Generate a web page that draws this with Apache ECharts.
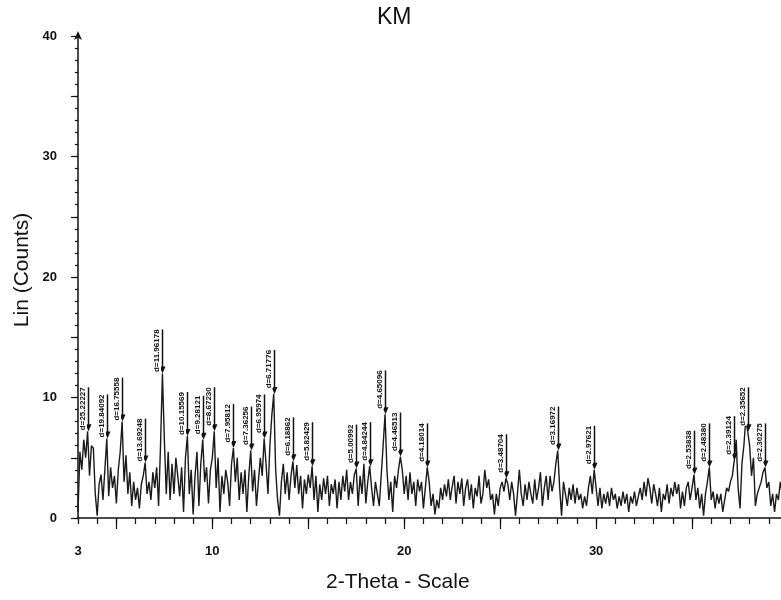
<!DOCTYPE html>
<html>
<head>
<meta charset="utf-8">
<script src="https://cdn.jsdelivr.net/npm/echarts@6/dist/echarts.min.js"></script>
<style>
  html, body { margin: 0; padding: 0; background: #fff; }
  #km { width: 781px; height: 600px; }
</style>
</head>
<body>
<div id="km"></div>
<script>
// 2-theta scan, 3.0 .. 40.0 deg, step 0.1
const thetaStart = 3.0;
const thetaStep = 0.1;
const counts = [
  0.5, 5.5, 4.0, 6.5, 5.0, 7.2, 3.5, 6.0, 5.8, 2.0,
  0.2, 2.8, 3.6, 1.5, 4.0, 6.6, 1.8, 4.2, 2.5, 3.5,
  1.2, 4.0, 5.5, 8.0, 3.0, 5.2, 2.0, 3.8, 1.0, 3.0,
  1.5, 2.5, 0.8, 2.8, 3.5, 4.6, 2.0, 3.0, 1.5, 3.8,
  2.5, 4.2, 1.0, 6.0, 12.0, 6.5, 2.0, 5.5, 1.5, 4.5,
  2.0, 5.0, 3.5, 1.8, 4.2, 0.5, 5.0, 6.8, 2.0, 4.0,
  0.3, 3.5, 5.5, 1.0, 4.5, 6.5, 3.0, 4.2, 1.2, 4.0,
  5.0, 7.2, 2.5, 5.0, 0.5, 3.5, 2.0, 4.0, 3.0, 1.0,
  4.5, 5.8, 3.0, 5.0, 1.5, 3.8, 2.0, 4.0, 0.5, 3.5,
  5.6, 2.2, 4.0, 1.0, 3.0, 5.0, 3.5, 6.6, 4.5, 2.0,
  6.0, 8.5, 10.3, 4.0, 1.5, 0.2, 3.0, 4.5, 2.0, 3.8,
  1.5, 3.5, 4.7, 2.5, 4.4, 2.0, 3.5, 0.8, 3.2, 2.0,
  3.6, 2.5, 4.3, 1.5, 3.5, 0.5, 2.8, 1.5, 3.3, 2.0,
  3.5, 1.0, 2.8, 2.0, 3.2, 0.8, 3.0, 1.5, 3.5, 2.2,
  4.0, 1.5, 3.0, 2.0, 3.6, 4.1, 1.0, 3.5, 2.0, 4.5,
  1.2, 3.0, 4.3, 2.5, 1.0, 3.0, 2.0, 1.0, 3.5, 6.0,
  8.6, 4.0, 1.5, 3.0, 0.5, 3.5, 2.5, 4.0, 5.1, 4.0,
  2.0, 3.5, 1.5, 3.8, 2.0, 3.0, 1.0, 3.2, 2.2, 3.0,
  0.8, 2.5, 4.2, 3.0, 1.0, 2.0, 0.3, 1.5, 0.8, 2.5,
  1.5, 2.8, 1.8, 3.2, 1.5, 2.6, 3.5, 1.2, 3.0, 2.0,
  3.3, 1.0, 2.5, 3.2, 1.5, 2.8, 0.8, 2.5, 1.8, 3.5,
  1.2, 2.0, 4.0, 2.5, 3.2, 1.5, 2.0, 0.3, 2.0, 1.0,
  2.5, 3.0, 2.2, 3.3, 2.8, 1.5, 3.0, 2.0, 0.2, 2.0,
  4.0, 2.0, 1.0, 2.8, 1.5, 3.0, 2.0, 1.2, 3.2, 1.5,
  2.5, 3.8, 1.0, 2.5, 3.5, 1.5, 3.5, 2.2, 3.0, 4.5,
  5.6, 2.5, 0.2, 3.0, 2.0, 1.0, 2.5, 1.5, 2.8, 1.2,
  2.5, 1.5, 2.0, 0.8, 1.8, 1.0, 2.5, 3.5, 2.0, 4.0,
  2.5, 1.0, 2.5, 0.8, 2.0, 1.2, 2.2, 1.0, 2.5, 1.5,
  2.0, 0.8, 1.8, 1.0, 2.2, 1.2, 2.0, 0.5, 1.8, 1.2,
  2.2, 1.0, 1.8, 2.5, 1.5, 3.0, 1.8, 3.3, 2.5, 1.2,
  2.8, 2.0, 1.0, 2.5, 0.5, 2.0, 1.5, 2.8, 1.2, 2.5,
  1.8, 3.0, 2.0, 2.8, 0.8, 2.2, 1.0, 2.5, 3.0, 1.5,
  2.5, 3.6, 1.5, 2.5, 0.8, 2.0, 0.2, 2.0, 3.0, 4.2,
  1.5, 2.2, 0.8, 2.0, 1.2, 2.0, 0.5, 1.5, 2.5, 2.2,
  3.0, 3.5, 4.8, 6.5, 2.5, 0.8, 4.5, 6.0, 8.2, 7.2,
  6.0, 3.5, 5.0, 1.0, 2.0, 2.5, 3.0, 3.8, 4.2, 2.5,
  3.0, 1.0, 2.0, 0.5, 2.0, 1.5, 3.0, 2.0, 3.5, 1.5,
  2.5
];

// labelled reflections
const peakTheta = [3.5, 4.5, 5.3, 6.5, 7.4, 8.7, 9.5, 10.1, 11.1, 12.0, 12.7, 13.2, 14.2, 15.2,
  17.5, 18.2, 19.0, 19.8, 21.2, 25.3, 28.0, 29.9, 35.1, 35.9, 37.2, 37.9, 38.8];
const peakLabels = ['d=25.22227', 'd=19.84092', 'd=16.75558', 'd=13.69248', 'd=11.96178',
  'd=10.15569', 'd=9.28121', 'd=8.67230', 'd=7.95812', 'd=7.36256', 'd=6.95974', 'd=6.71776',
  'd=6.18862', 'd=5.82429', 'd=5.00992', 'd=4.84244', 'd=4.65096', 'd=4.46513', 'd=4.18014',
  'd=3.48704', 'd=3.16972', 'd=2.97621', 'd=2.53838', 'd=2.48380', 'd=2.39124', 'd=2.35652',
  'd=2.30275'];

const xLabelValues = [3, 10, 20, 30, 40];
const xLongTicks = [5, 10, 15, 20, 25, 30, 35, 40];
const yLongTicks = [0, 5, 10, 15, 20, 25, 30, 35, 40];

const trace = counts.map((c, i) => [+(thetaStart + i * thetaStep).toFixed(1), c]);
const peaks = peakTheta.map((t, i) => [t, counts[Math.round((t - thetaStart) / thetaStep)], peakLabels[i]]);

const font = '"Liberation Sans", Arial, sans-serif';
const allXTicks = [];
for (let v = 3; v <= 40; v++) allXTicks.push(v);

const chart = echarts.init(document.getElementById('km'), undefined, { renderer: 'canvas' });

const option = {
  backgroundColor: '#fff',
  animation: false,
  grid: { left: 78, top: 36, width: 710, height: 482, containLabel: false, outerBoundsMode: 'none' },
  graphic: [
    { type: 'text', left: 377, top: 6, style: { text: 'KM', font: '23px ' + font, fill: '#111' } },
    { type: 'text', left: 326, top: 572, style: { text: '2-Theta - Scale', font: '21px ' + font, fill: '#111' } },
    {
      type: 'text', x: 33, y: 270, rotation: Math.PI / 2,
      style: { text: 'Lin (Counts)', font: '21px ' + font, fill: '#111', align: 'center', verticalAlign: 'bottom' }
    }
  ],
  xAxis: [
    {
      type: 'value', min: 3, max: 40, interval: 1,
      splitLine: { show: false },
      axisLine: { lineStyle: { color: '#111', width: 1.5 } },
      axisTick: { customValues: allXTicks, length: 6, lineStyle: { color: '#111', width: 1.2 } },
      axisLabel: {
        customValues: xLabelValues, margin: 27, color: '#111',
        fontFamily: font, fontSize: 13, fontWeight: 'bold'
      }
    },
    {
      type: 'value', min: 3, max: 40, position: 'bottom',
      splitLine: { show: false },
      axisLine: { show: false },
      axisLabel: { show: false },
      axisTick: { customValues: xLongTicks, length: 11, lineStyle: { color: '#111', width: 1.2 } }
    }
  ],
  yAxis: [
    {
      type: 'value', min: 0, max: 40, interval: 1,
      splitLine: { show: false },
      axisLine: { lineStyle: { color: '#111', width: 1.5 }, symbol: ['none', 'arrow'], symbolSize: [6, 9], symbolOffset: [0, 5] },
      axisTick: { length: 3, lineStyle: { color: '#111', width: 1.2 } },
      axisLabel: {
        margin: 21, color: '#111', fontFamily: font, fontSize: 13, fontWeight: 'bold',
        formatter: (v) => (v % 10 === 0 ? String(v) : '')
      }
    },
    {
      type: 'value', min: 0, max: 40, position: 'left',
      splitLine: { show: false },
      axisLine: { show: false },
      axisLabel: { show: false },
      axisTick: { customValues: yLongTicks, length: 7, lineStyle: { color: '#111', width: 1.2 } }
    }
  ],
  series: [
    {
      type: 'line',
      data: trace,
      showSymbol: false,
      lineStyle: { color: '#1a1a1a', width: 1.4 },
      z: 2
    },
    {
      type: 'custom',
      data: peaks,
      z: 3,
      renderItem: (params, api) => {
        const tip = api.coord([api.value(0), api.value(1)]);
        const top = tip[1] - 44;
        const px = Math.round(tip[0]) + 0.5;
        return {
          type: 'group',
          children: [
            {
              type: 'line',
              shape: { x1: px, y1: top, x2: px, y2: tip[1] - 4 },
              style: { stroke: '#111', lineWidth: 1.5 }
            },
            {
              type: 'polygon',
              shape: { points: [[px - 3, tip[1] - 7], [px + 3, tip[1] - 7], [px, tip[1]]] },
              style: { fill: '#111' }
            },
            {
              type: 'text',
              x: px - 1.5, y: top, rotation: Math.PI / 2,
              style: {
                text: peakLabels[params.dataIndex],
                font: 'bold 8px ' + font, fill: '#111',
                align: 'right', verticalAlign: 'bottom',
                backgroundColor: '#fff'
              }
            }
          ]
        };
      }
    }
  ]
};

chart.setOption(option);
</script>
</body>
</html>
